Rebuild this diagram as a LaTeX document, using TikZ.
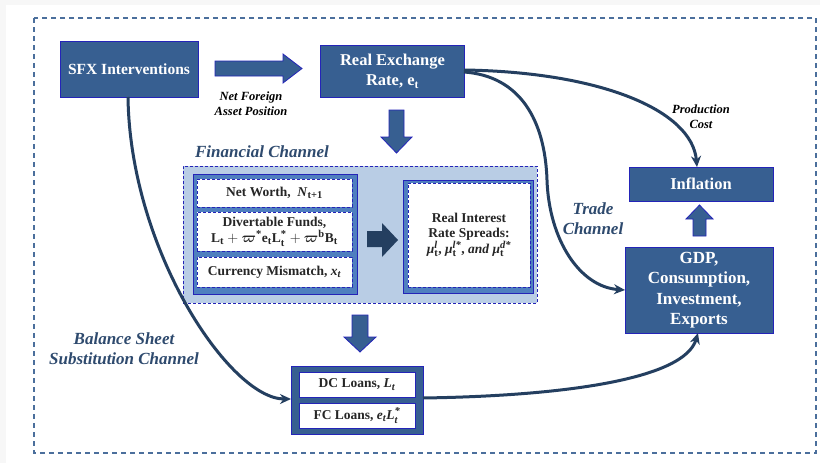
\documentclass[tikz,border=0pt]{standalone}
\usepackage{amsmath,bm}
\usepackage{fontspec}
\setmainfont{Liberation Serif}
\DeclareMathSizes{13.5}{13.5}{10.5}{8.5}
\usetikzlibrary{arrows.meta}
\definecolor{boxblue}{HTML}{375F91}
\definecolor{edgeblue}{HTML}{2424B8}
\definecolor{navy}{HTML}{243F60}
\definecolor{lightfill}{HTML}{B9CDE5}
\definecolor{midblue}{HTML}{4F7FBF}
\definecolor{labelcol}{HTML}{2E4A6E}
\definecolor{pagegrey}{HTML}{F7F7F7}
\tikzset{
  darkbox/.style={draw=edgeblue, line width=0.9pt, fill=boxblue, text=white, font=\bfseries\fontsize{16.5}{19}\selectfont, align=center, inner sep=0pt},
  whitebox/.style={draw=edgeblue, line width=0.8pt, fill=white, text=black!85, font=\bfseries\fontsize{13.5}{15.5}\selectfont, align=center, inner sep=0pt},
  dashbox/.style={whitebox, dashed, dash pattern=on 3pt off 2pt},
  groupbox/.style={draw=edgeblue, line width=0.9pt, fill=midblue, inner sep=0pt},
  blockarrow/.style={draw=edgeblue, line width=0.8pt, fill=boxblue},
  conn/.style={draw=navy, line width=3pt, -{Stealth[length=11pt,width=10pt]}},
  chanlabel/.style={text=labelcol, font=\bfseries\itshape\fontsize{17}{20}\selectfont, align=center},
  smalllabel/.style={text=black, font=\bfseries\itshape\fontsize{12.5}{15}\selectfont, align=center},
}
\begin{document}
\begin{tikzpicture}[x=1pt,y=-1pt]
\useasboundingbox (0,0) rectangle (820,463);
\fill[pagegrey] (0,0) rectangle (820,463);
\fill[white] (6,5) rectangle (820,463);
\draw[draw=boxblue!90, line width=1.2pt, dash pattern=on 5pt off 4pt] (34,18) rectangle (816,453);

% main boxes
\node[darkbox, minimum width=138pt, minimum height=56pt, font=\bfseries\fontsize{15.5}{18}\selectfont] (sfx) at (129,69.5) {SFX Interventions};
\node[darkbox, minimum width=144pt, minimum height=52pt] (rer) at (392.5,71.5) {Real Exchange\\[1pt] Rate, e\textsubscript{t}};
\node[darkbox, minimum width=144pt, minimum height=34pt] (infl) at (701,184) {Inflation};
\node[darkbox, minimum width=148pt, minimum height=86pt, font=\bfseries\fontsize{17}{20.5}\selectfont] (gdp) at (699,290) {GDP,\\Consumption,\\Investment,\\Exports};

% block arrow SFX -> RER
\draw[blockarrow] (215,61) -- (283,61) -- (283,54) -- (302,68.5) -- (283,83) -- (283,76) -- (215,76) -- cycle;
\node[smalllabel] (nfa) at (251,103.5) {Net Foreign\\Asset Position};

% down arrow RER -> financial channel
\draw[blockarrow] (389,110) -- (404,110) -- (404,137) -- (412,137) -- (396.5,153) -- (381,137) -- (389,137) -- cycle;

% financial channel
\node[chanlabel] (finlab) at (262,152) {Financial Channel};
\node[draw=edgeblue, line width=0.8pt, dash pattern=on 3pt off 2pt, fill=lightfill, minimum width=354pt, minimum height=137pt, inner sep=0pt] (fin) at (360,234.5) {};
\node[groupbox, minimum width=164pt, minimum height=120pt] (lgrp) at (275,234) {};
\node[dashbox, minimum width=155pt, minimum height=28pt] (nw) at (274.5,193) {Net Worth,\enspace\textit{N}$_{\text{t+1}}$};
\node[dashbox, minimum width=155pt, minimum height=39pt] (div) at (274.5,231.5) {Divertable Funds,\\[1pt] $\text{L}_{\text{t}} + \bm{\varpi}^{\text{*}}\text{e}_{\text{t}}\text{L}^{\text{*}}_{\text{t}} + \bm{\varpi}^{\text{b}}\text{B}_{\text{t}}$};
\node[dashbox, minimum width=155pt, minimum height=30pt] (cm) at (274.5,272) {Currency Mismatch, $\textit{x}_{\textit{t}}$};
\node[groupbox, minimum width=130pt, minimum height=113pt] (rgrp) at (468,236.5) {};
\node[dashbox, minimum width=122pt, minimum height=104pt] (spr) at (469,235) {Real Interest\\Rate Spreads:\\$\textit{μ}^{\textit{l}}_{\text{t}}$, $\textit{μ}^{\textit{l*}}_{\text{t}}$, \textit{and} $\textit{μ}^{\textit{d*}}_{\text{t}}$};
\fill[navy] (367,231) -- (382,231) -- (382,223) -- (398,240) -- (382,257) -- (382,247) -- (367,247) -- cycle;

% down arrow financial -> loans
\draw[blockarrow] (352,315) -- (368,315) -- (368,337) -- (376,337) -- (360,352) -- (344,337) -- (352,337) -- cycle;

% loans
\node[darkbox, minimum width=132pt, minimum height=68pt] (loans) at (357,400) {};
\node[whitebox, minimum width=116pt, minimum height=25pt] (dc) at (357,384.5) {DC Loans, $\textit{L}_{\textit{t}}$};
\node[whitebox, minimum width=116pt, minimum height=25pt] (fc) at (357,415.5) {FC Loans, $\textit{e}_{\textit{t}}\textit{L}^{\textit{*}}_{\textit{t}}$};

% up arrow GDP -> inflation
\draw[blockarrow] (693,236) -- (706,236) -- (706,219) -- (713,219) -- (699.5,205) -- (686,219) -- (693,219) -- cycle;

% labels
\node[chanlabel] (trade) at (593,219) {Trade\\Channel};
\node[smalllabel] (prod) at (701,116.5) {Production\\Cost};
\node[chanlabel] (bss) at (124,349) {Balance Sheet\\Substitution Channel};

% connectors
\coordinate (sfxs) at (128,97);
\coordinate (rerA) at (464,70);
\coordinate (rerB) at (464,72);
\coordinate (tmid) at (547,180);
\coordinate (inflt) at (697,167);
\coordinate (gdpl) at (625,290);
\coordinate (loansw) at (291,399);
\coordinate (loanse) at (423,398);
\coordinate (gdpb) at (698,333);
\draw[conn] (sfxs) .. controls (130,250) and (230,399) .. (loansw);
\draw[conn] (rerA) .. controls (600,72) and (692,110) .. (inflt);
\draw[conn] (rerB) .. controls (520,76) and (545,120) .. (tmid) .. controls (549,240) and (580,287) .. (gdpl);
\draw[conn] (loanse) .. controls (560,396) and (684,380) .. (gdpb);
\end{tikzpicture}
\end{document}
